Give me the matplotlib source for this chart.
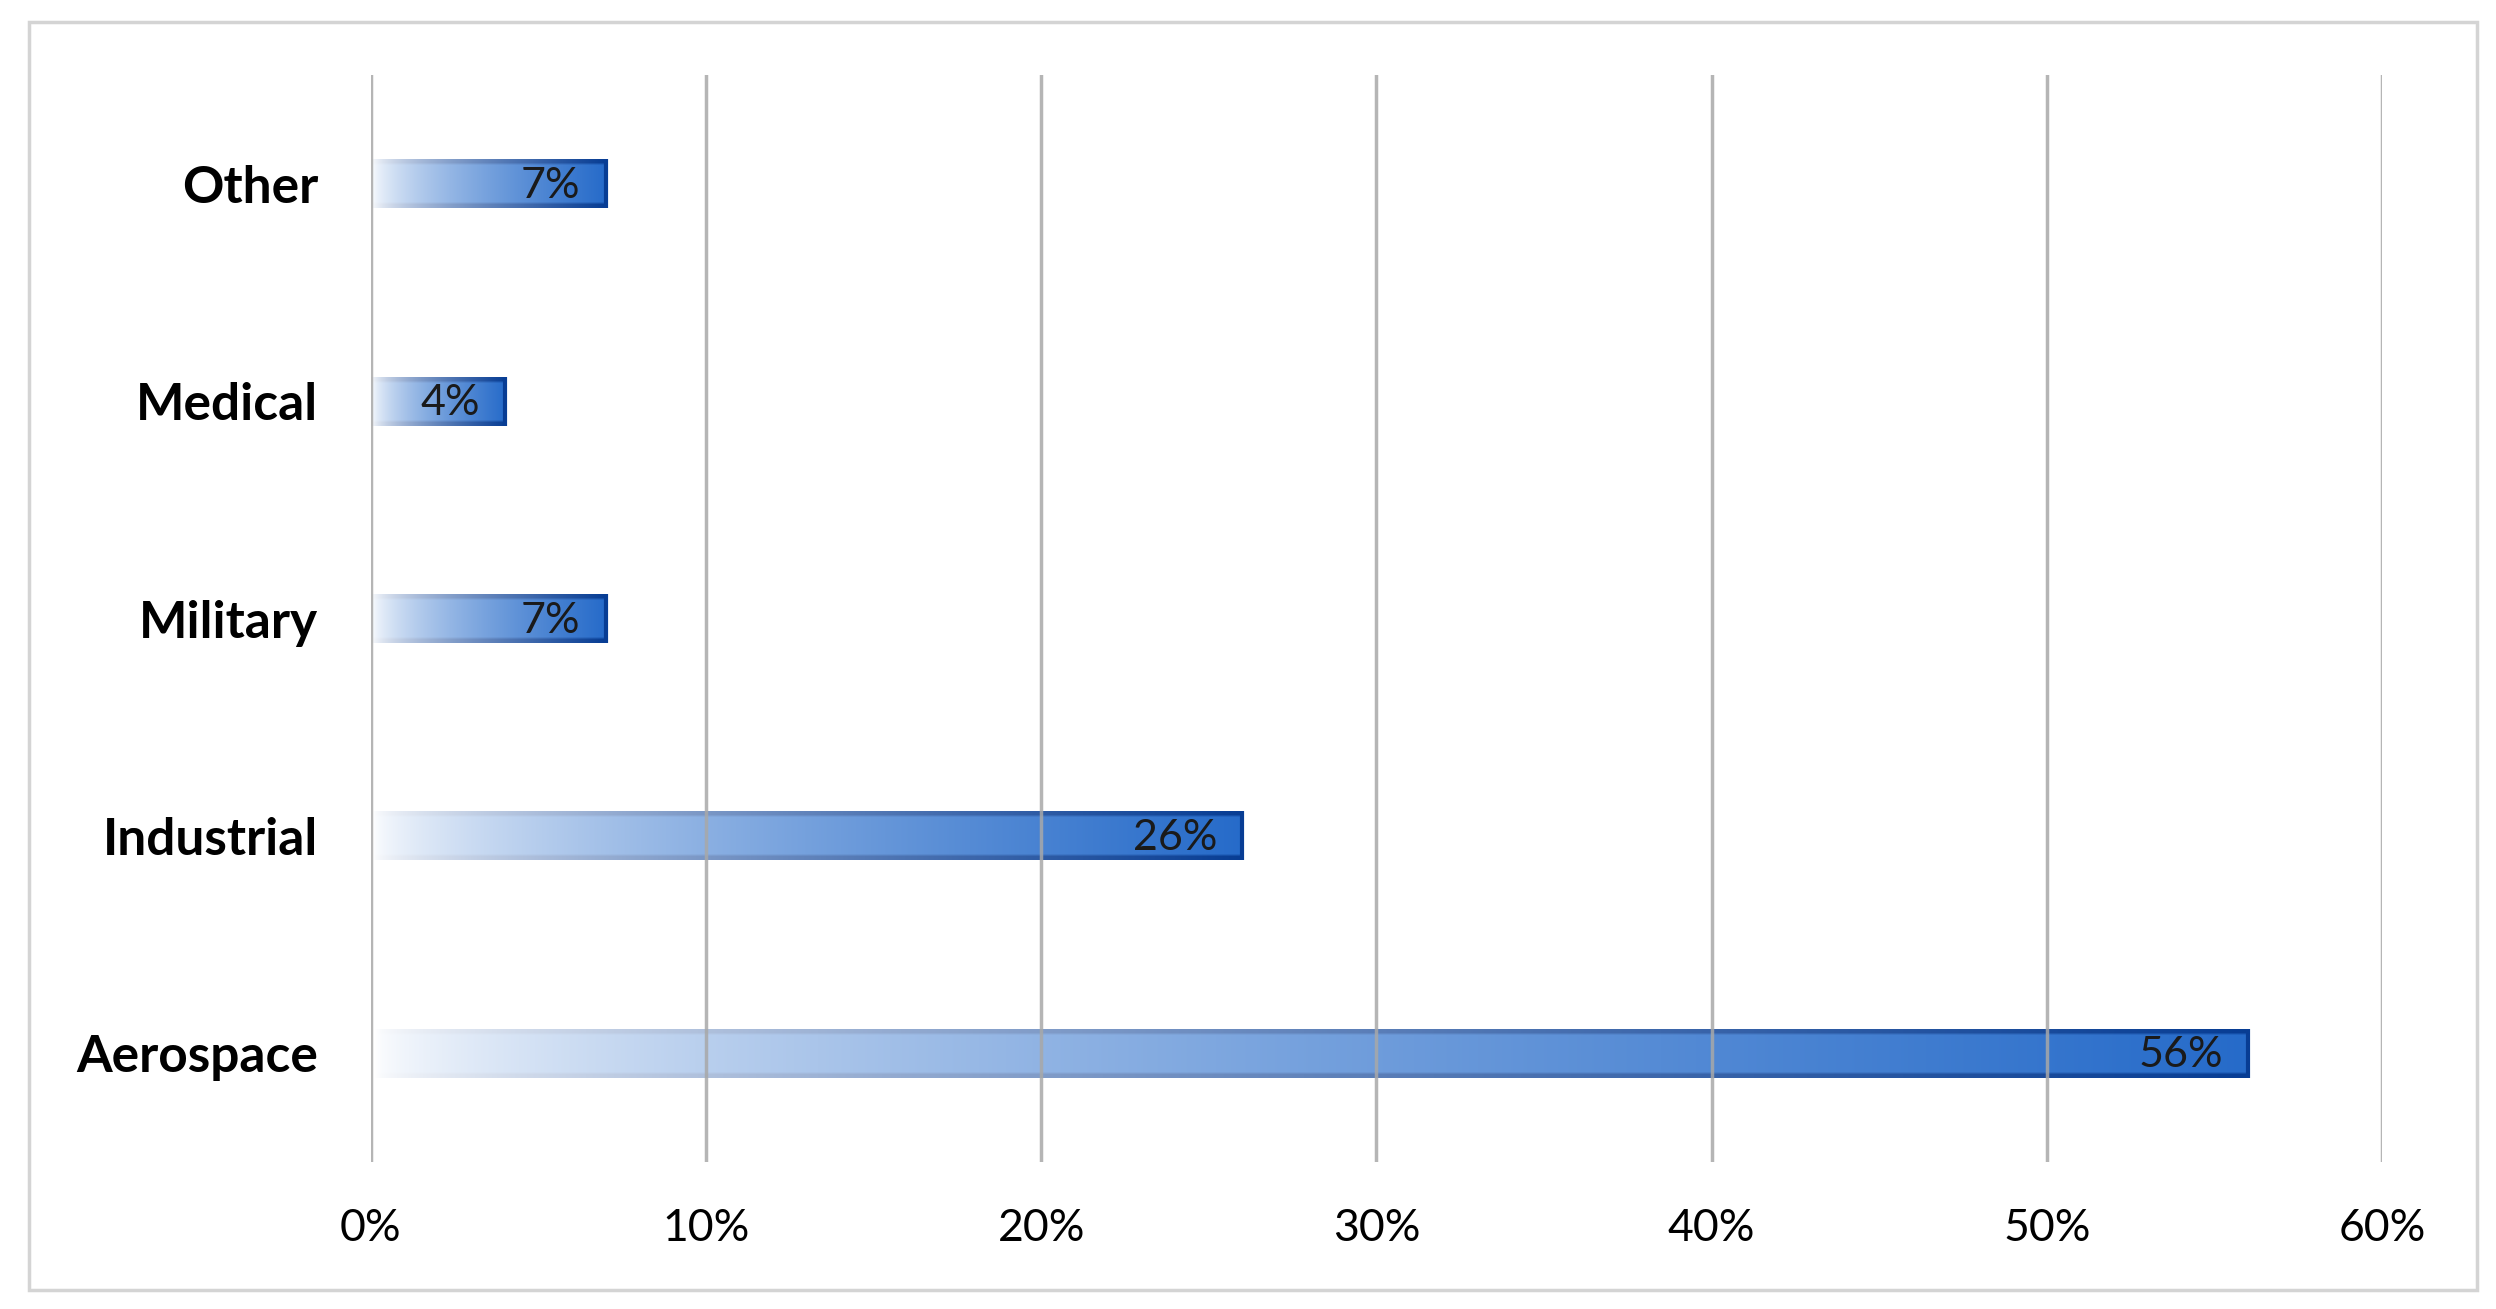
import matplotlib.pyplot as plt
import numpy as np
from matplotlib.patches import Rectangle

categories = ['Aerospace', 'Industrial', 'Military', 'Medical', 'Other']
shares = [56, 26, 7, 4, 7]
xticks = [0, 10, 20, 30, 40, 50, 60]

plt.rcParams['font.family'] = ['Lato', 'DejaVu Sans']

fig = plt.figure(figsize=(24.96, 13.09), dpi=100)
ax = fig.add_axes([0.1486, 0.1123, 0.8057, 0.8304])

# light frame around the whole chart
fig.patches.append(Rectangle((0.0116, 0.0145), 0.9808, 0.9687, transform=fig.transFigure,
                             fill=False, edgecolor='#d4d4d4', linewidth=2.5))

white = np.array([1.0, 1.0, 1.0])
mid = np.array([0.15, 0.42, 0.79])
dark = np.array([0.03, 0.24, 0.58])
h = 0.225

for i, v in enumerate(shares):
    t = np.linspace(0, 1, 256) ** 0.65
    rows = 20
    img = np.zeros((rows, 256, 3))
    for r in range(rows):
        c = dark if (r < 2 or r >= rows - 2) else mid
        img[r] = white * (1 - t[:, None]) + c * t[:, None]
    ax.imshow(img, extent=[0, v, i - h / 2, i + h / 2], aspect='auto',
              interpolation='bilinear', zorder=2)
    ax.vlines(v, i - h / 2, i + h / 2, color=dark, linewidth=3, zorder=3)
    ax.text(v - 0.75, i - 0.01, f'{v}%', ha='right', va='center',
            fontsize=31, color='#1a1a1a', zorder=4)

ax.set_xlim(0, 60)
ax.set_ylim(-0.5, len(categories) - 0.5)
ax.set_xticks(xticks)
ax.set_xticklabels([f'{x}%' for x in xticks], fontsize=32)
ax.set_yticks(range(len(categories)))
ax.set_yticklabels(categories, fontsize=37, fontweight='bold')
ax.tick_params(axis='x', length=0, pad=33)
ax.tick_params(axis='y', length=0, pad=38)
ax.grid(axis='x', color='#a8a8a8', linewidth=2.5, zorder=3.5, alpha=0.85)
ax.set_axisbelow(False)
for s in ax.spines.values():
    s.set_visible(False)

fig.savefig('out.png', dpi=100)
